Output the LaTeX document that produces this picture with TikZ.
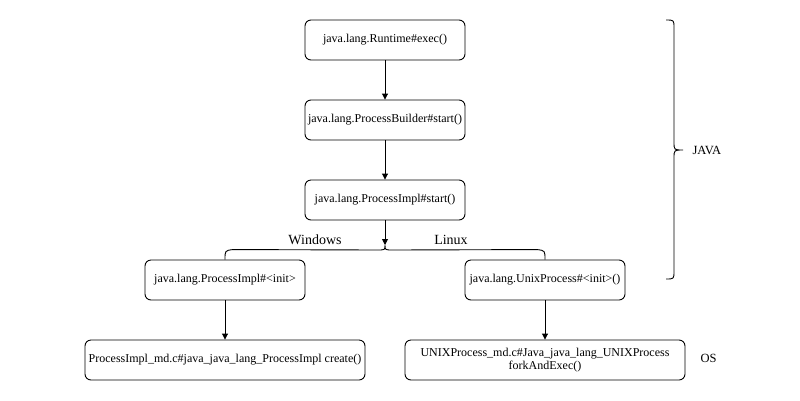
\documentclass[tikz,border=0pt]{standalone}
\usepackage{fontspec}
\setmainfont{Liberation Serif}
\usetikzlibrary{arrows.meta}
\begin{document}
\begin{tikzpicture}[x=1pt,y=-1pt,
  box/.style={draw, rounded corners=6pt, line width=0.9pt, minimum height=40pt, align=center, inner sep=1pt, font=\fontsize{12}{13.5}\selectfont},
  arr/.style={-{Triangle[length=6pt,width=6pt]}, line width=0.9pt},
  lbl/.style={font=\fontsize{12.5}{14}\selectfont},
  biglbl/.style={font=\fontsize{14}{16}\selectfont},
  brace/.style={line width=0.9pt}]
\useasboundingbox (0,0) rectangle (800,400);
\node[box, minimum width=160pt] (a) at (385,40) {java.lang.Runtime\#exec()};
\node[box, minimum width=160pt] (b) at (385,120) {java.lang.ProcessBuilder\#start()};
\node[box, minimum width=160pt] (c) at (385,200) {java.lang.ProcessImpl\#start()};
\node[box, minimum width=160pt] (l) at (225,280) {java.lang.ProcessImpl\#<init>};
\node[box, minimum width=160pt] (r) at (545,280) {java.lang.UnixProcess\#<init>()};
\node[box, minimum width=280pt] (lb) at (225,360) {ProcessImpl\_md.c\#java\_java\_lang\_ProcessImpl create()};
\node[box, minimum width=280pt] (rb) at (545,360) {UNIXProcess\_md.c\#Java\_java\_lang\_UNIXProcess\\forkAndExec()};
\coordinate (tip) at (385,245);
\draw[arr] (a) -- (b);
\draw[arr] (b) -- (c);
\draw[arr] (c) -- (tip);
\draw[arr] (l) -- (lb);
\draw[arr] (r) -- (rb);
% horizontal brace
\draw[brace] (l.north) .. controls ([yshift=9pt]l.north) .. ([xshift=8pt,yshift=10pt]l.north)
  -- ([xshift=-8pt,yshift=-5pt]tip) .. controls ([yshift=-5pt]tip) .. (tip)
  .. controls ([yshift=-5pt]tip) .. ([xshift=8pt,yshift=-5pt]tip)
  -- ([xshift=-8pt,yshift=10pt]r.north) .. controls ([yshift=9pt]r.north) .. (r.north);
\node[biglbl] (win) at (315,240) {Windows};
\node[biglbl] (lin) at (451,240) {Linux};
% vertical brace
\coordinate (jt) at (666,20);
\coordinate (jb) at (666,279);
\coordinate (jtip) at (683,150);
\draw[brace] (jt) .. controls (674,20) .. (674,28) -- (674,142) .. controls (674,150) .. (jtip)
  .. controls (674,150) .. (674,158) -- (674,271) .. controls (674,279) .. (jb);
\node[lbl, anchor=west] (java) at (689,150) {JAVA};
\node[lbl, anchor=west] (os) at (697,358) {OS};
\end{tikzpicture}
\end{document}
